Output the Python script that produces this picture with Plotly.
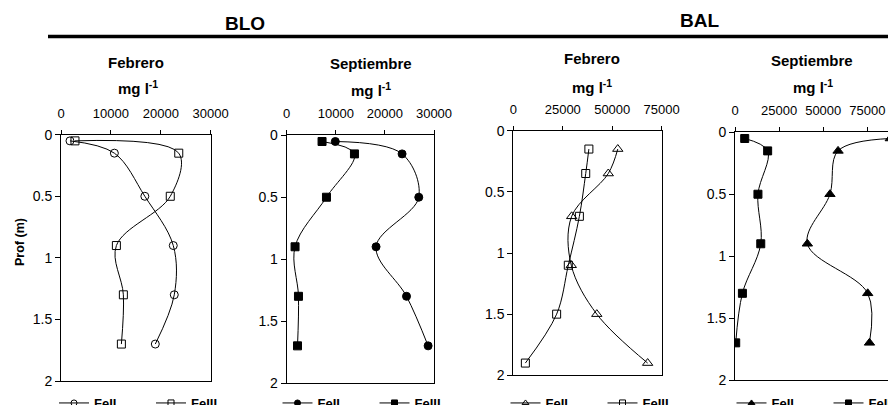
import plotly.graph_objects as go

# ---------------- data ----------------
depth_blo = [0.05, 0.15, 0.5, 0.9, 1.3, 1.7]
blo_feb_fe2 = [1800, 10700, 16800, 22500, 22700, 18900]
blo_feb_fe3 = [2800, 23600, 21900, 11100, 12500, 12100]
blo_sep_fe2 = [9900, 23500, 26900, 18200, 24400, 28800]
blo_sep_fe3 = [7200, 13800, 8100, 1700, 2400, 2200]

depth_bal_feb = [0.15, 0.35, 0.7, 1.1, 1.5, 1.9]
bal_feb_fe2 = [52800, 48000, 29500, 29300, 42200, 67900]
bal_feb_fe3 = [38200, 36600, 33400, 27800, 21900, 6100]

depth_bal_sep = [0.05, 0.15, 0.5, 0.9, 1.3, 1.7]
bal_sep_fe2 = [88000, 58400, 53800, 41000, 75200, 76200]
bal_sep_fe3 = [5500, 18500, 13000, 14600, 4200, 400]

series_names = ["FeII", "FeIII"]
station_labels = ["BLO", "BAL"]
month_labels = ["Febrero", "Septiembre", "Febrero", "Septiembre"]
unit_label = "mg l<sup>-1</sup>"
y_title = "Prof (m)"

W, H = 888, 405
FONT = "Liberation Sans, Arial, sans-serif"

def px(x):
    return x / W

def py(y):
    return 1 - y / H

# panel geometry (pixels): x0, x1, ytop, ybottom
panels = [
    (61, 210.7, 134.7, 381.0),
    (286.7, 434.0, 135.3, 383.0),
    (513.3, 661.7, 130.7, 375.3),
    (735.0, 888.0, 132.3, 380.0),
]
xranges = [[0, 30000], [0, 30000], [0, 75000], [0, 86700]]
xdticks = [10000, 10000, 25000, 25000]

panel_data = [
    (depth_blo, blo_feb_fe2, blo_feb_fe3, ("circle-open", "square-open")),
    (depth_blo, blo_sep_fe2, blo_sep_fe3, ("circle", "square")),
    (depth_bal_feb, bal_feb_fe2, bal_feb_fe3, ("triangle-up-open", "square-open")),
    (depth_bal_sep, bal_sep_fe2, bal_sep_fe3, ("triangle-up", "square")),
]
sizes = {"circle-open": 8, "circle": 8, "square-open": 8, "square": 8,
         "triangle-up-open": 9, "triangle-up": 9}

fig = go.Figure()
legend_ids = ["legend", "legend2", "legend3", "legend4"]

for i, (depth, fe2, fe3, syms) in enumerate(panel_data):
    xa = "x" if i == 0 else f"x{i+1}"
    ya = "y" if i == 0 else f"y{i+1}"
    for name, vals, sym in ((series_names[0], fe2, syms[0]), (series_names[1], fe3, syms[1])):
        fig.add_trace(go.Scatter(
            x=vals, y=depth, xaxis=xa, yaxis=ya, mode="lines+markers",
            line=dict(color="black", width=1, shape="spline", smoothing=1),
            marker=dict(symbol=sym, size=sizes[sym], color="black",
                        line=dict(color="black", width=1)),
            showlegend=False, name=name,
        ))
        # legend-only entry with small marker
        fig.add_trace(go.Scatter(
            x=[None], y=[None], xaxis=xa, yaxis=ya, mode="lines+markers",
            line=dict(color="black", width=1),
            marker=dict(symbol=sym, size=6, color="black",
                        line=dict(color="black", width=1)),
            name=name, legend=legend_ids[i], showlegend=True,
        ))

layout = dict(
    width=W, height=H, margin=dict(l=0, r=0, t=0, b=0, autoexpand=False),
    paper_bgcolor="white", plot_bgcolor="white",
    font=dict(family=FONT, color="black", size=13),
)

for i, (x0, x1, yt, yb) in enumerate(panels):
    xk = "xaxis" if i == 0 else f"xaxis{i+1}"
    yk = "yaxis" if i == 0 else f"yaxis{i+1}"
    ya = "y" if i == 0 else f"y{i+1}"
    xa = "x" if i == 0 else f"x{i+1}"
    layout[xk] = dict(
        domain=[px(x0), min(1.0, px(x1))], range=xranges[i], side="top", anchor=ya,
        showline=True, linecolor="black", linewidth=1, mirror=True,
        ticks="outside", ticklen=4, tickcolor="black", dtick=xdticks[i], tick0=0,
        tickformat="d", showgrid=False, zeroline=False,
        tickfont=dict(size=13, family=FONT, color="black"), ticklabelstandoff=7,
        automargin=False,
    )
    layout[yk] = dict(
        domain=[py(yb), py(yt)], range=[2, 0], anchor=xa,
        showline=True, linecolor="black", linewidth=1, mirror=(i != 3),
        ticks="outside", ticklen=5, tickcolor="black", dtick=0.5, tick0=0,
        showgrid=False, zeroline=False, automargin=False,
        tickfont=dict(size=14, family=FONT, color="black"),
    )

legend_x = [54, 277.5, 505.5, 731.5]
for i, lid in enumerate(legend_ids):
    layout[lid] = dict(
        orientation="h", x=px(legend_x[i]), xanchor="left", y=py(388), yanchor="top",
        font=dict(size=13, family=FONT, color="black", weight="bold"),
        bgcolor="rgba(0,0,0,0)", entrywidth=52, entrywidthmode="pixels",
        tracegroupgap=0, itemclick=False,
    )

annotations = []
def add_text(text, x, y, size, angle=0):
    annotations.append(dict(
        text=text, x=px(x), y=py(y), xref="paper", yref="paper",
        xanchor="center", yanchor="middle", showarrow=False, textangle=angle,
        font=dict(size=size, family=FONT, color="black", weight="bold"),
    ))

add_text(station_labels[0], 245, 23, 19)
add_text(station_labels[1], 699, 21, 19)

title_pos = [(136, 62), (371, 63), (591.7, 58), (812, 61)]
unit_pos = [(137.5, 88), (371, 89), (592, 86), (812.5, 87)]
for i in range(4):
    add_text(month_labels[i], title_pos[i][0], title_pos[i][1], 15)
    add_text(unit_label, unit_pos[i][0], unit_pos[i][1], 15)

add_text(y_title, 20, 242, 12.5, angle=-90)

layout["annotations"] = annotations
layout["shapes"] = [dict(
    type="line", xref="paper", yref="paper", x0=px(48), x1=1.0, y0=py(36.5), y1=py(36.5),
    line=dict(color="black", width=3.5),
)]

fig.update_layout(**layout)
fig.write_html("out.html")
